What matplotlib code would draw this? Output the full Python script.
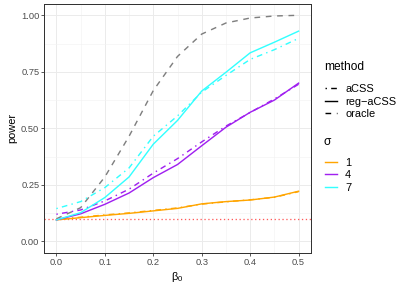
import matplotlib
matplotlib.use("Agg")
import matplotlib.pyplot as plt
from matplotlib.lines import Line2D
from matplotlib.ticker import MultipleLocator

plt.rcParams['font.family'] = ['Liberation Sans', 'DejaVu Sans']
plt.rcParams['mathtext.fontset'] = 'custom'
plt.rcParams['mathtext.rm'] = 'Liberation Sans'

beta0 = [0.0, 0.05, 0.10, 0.15, 0.20, 0.25, 0.30, 0.35, 0.40, 0.45, 0.50]

oracle = [0.100, 0.149, 0.285, 0.465, 0.667, 0.818, 0.917, 0.966, 0.988, 0.997, 1.000]

s1_reg  = [0.095, 0.105, 0.115, 0.124, 0.135, 0.146, 0.166, 0.176, 0.183, 0.196, 0.222]
s1_acss = [0.097, 0.107, 0.117, 0.126, 0.137, 0.148, 0.165, 0.175, 0.184, 0.195, 0.220]

s4_reg  = [0.095, 0.122, 0.164, 0.214, 0.282, 0.340, 0.423, 0.505, 0.571, 0.625, 0.700]
s4_acss = [0.120, 0.139, 0.179, 0.231, 0.302, 0.366, 0.440, 0.510, 0.570, 0.630, 0.695]

s7_reg  = [0.095, 0.127, 0.194, 0.285, 0.430, 0.535, 0.665, 0.748, 0.834, 0.881, 0.930]
s7_acss = [0.145, 0.176, 0.238, 0.325, 0.465, 0.555, 0.660, 0.734, 0.805, 0.848, 0.898]

null_level = 0.10

methods = ['aCSS', 'reg\u2212aCSS', 'oracle']
sigmas = ['1', '4', '7']
sigma_colors = ['#FFA500', '#A020F0', '#33FFFF']

W, H = 405, 289
fig = plt.figure(figsize=(W / 72, H / 72), dpi=72)
ax = fig.add_axes([44.3 / W, 1 - 252.7 / H, (310.7 - 44.3) / W, (252.7 - 4) / H])

lw = 1.42
ls_dotdash = (0, (1, 3, 4, 3))
ls_dashed = (0, (4, 4))

ax.axhline(null_level, color='#FF5A5A', lw=1.3, ls=(0, (1, 2)), zorder=2)
ax.plot(beta0, oracle, color='#7F7F7F', lw=lw, ls=ls_dashed, zorder=3)
series = [(s1_reg, s1_acss), (s4_reg, s4_acss), (s7_reg, s7_acss)]
for (reg, acss), c in zip(series, sigma_colors):
    ax.plot(beta0, acss, color=c, lw=lw, ls=ls_dotdash, zorder=3)
    ax.plot(beta0, reg, color=c, lw=lw, ls='-', zorder=3)

ax.set_xlim(-0.025, 0.525)
ax.set_ylim(-0.05, 1.05)
ax.xaxis.set_minor_locator(MultipleLocator(0.05))
ax.yaxis.set_minor_locator(MultipleLocator(0.125))
ax.set_xticks([0, 0.1, 0.2, 0.3, 0.4, 0.5])
ax.set_xticklabels(['0.0', '0.1', '0.2', '0.3', '0.4', '0.5'])
ax.set_yticks([0, 0.25, 0.5, 0.75, 1.0])
ax.set_yticklabels(['0.00', '0.25', '0.50', '0.75', '1.00'])
ax.grid(True, which='major', color='#EBEBEB', lw=1.0, zorder=0)
ax.grid(True, which='minor', color='#F2F2F2', lw=0.6, zorder=0)
ax.set_axisbelow(True)
ax.tick_params(which='major', length=2.75, width=0.8, color='#333333',
               labelsize=9.2, labelcolor='#4D4D4D', pad=2.2)
ax.tick_params(which='minor', length=0)
for s in ax.spines.values():
    s.set_color('#333333')
    s.set_linewidth(1.0)

ax.set_ylabel('power', fontsize=11, labelpad=4)
ax.set_xlabel(r'$\mathregular{\beta_0}$', fontsize=11, labelpad=3)

fig.text(324 / W, 1 - 66.7 / H, 'method', fontsize=12, ha='left', va='center')
fig.text(324 / W, 1 - 142.3 / H, '\u03c3', fontsize=12, ha='left', va='center')

m_handles = [Line2D([], [], color='black', lw=lw, ls=ls_dotdash),
             Line2D([], [], color='black', lw=lw, ls='-'),
             Line2D([], [], color='black', lw=lw, ls=ls_dashed)]
leg1 = fig.legend(m_handles, methods, loc='center left',
                  bbox_to_anchor=(325 / W, 1 - 101.7 / H), frameon=False,
                  fontsize=11, handlelength=1.1, handletextpad=0.73,
                  labelspacing=0.24, borderpad=0, borderaxespad=0)
s_handles = [Line2D([], [], color=c, lw=lw) for c in sigma_colors]
leg2 = fig.legend(s_handles, sigmas, loc='center left',
                  bbox_to_anchor=(325 / W, 1 - 175.3 / H), frameon=False,
                  fontsize=11, handlelength=1.1, handletextpad=0.73,
                  labelspacing=0.24, borderpad=0, borderaxespad=0)

fig.savefig('out.png', dpi=72)
